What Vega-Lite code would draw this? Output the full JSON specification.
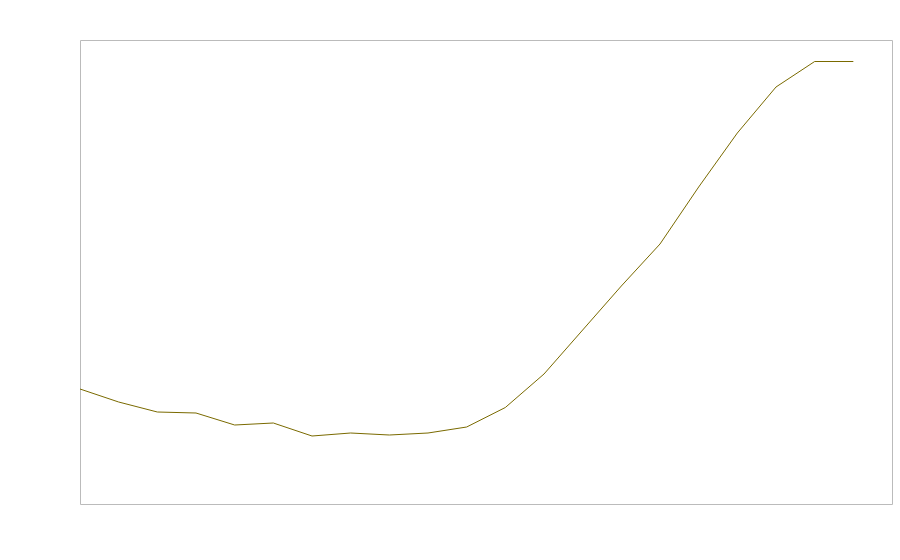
{
  "$schema": "https://vega.github.io/schema/vega-lite/v6.json",
  "width": 812,
  "height": 464,
  "autosize": {"type": "none"},
  "padding": {"left": 80, "top": 40, "right": 8, "bottom": 56},
  "background": "white",
  "config": {"view": {"stroke": "#bbbbbb", "strokeWidth": 1}},
  "data": {"values": [
    {"i": 0, "v": 115}, {"i": 1, "v": 102}, {"i": 2, "v": 92}, {"i": 3, "v": 91},
    {"i": 4, "v": 79}, {"i": 5, "v": 81}, {"i": 6, "v": 68}, {"i": 7, "v": 71},
    {"i": 8, "v": 69}, {"i": 9, "v": 71}, {"i": 10, "v": 77}, {"i": 11, "v": 96.5},
    {"i": 12, "v": 130}, {"i": 13, "v": 174}, {"i": 14, "v": 218}, {"i": 15, "v": 260},
    {"i": 16, "v": 317}, {"i": 17, "v": 371}, {"i": 18, "v": 417}, {"i": 19, "v": 442.5},
    {"i": 20, "v": 442.5}
  ]},
  "mark": {"type": "line", "color": "#7a6a00", "strokeWidth": 1},
  "encoding": {
    "x": {"field": "i", "type": "quantitative", "scale": {"domain": [0, 21], "nice": false, "zero": false}, "axis": null},
    "y": {"field": "v", "type": "quantitative", "scale": {"domain": [0, 464], "nice": false}, "axis": null}
  }
}
